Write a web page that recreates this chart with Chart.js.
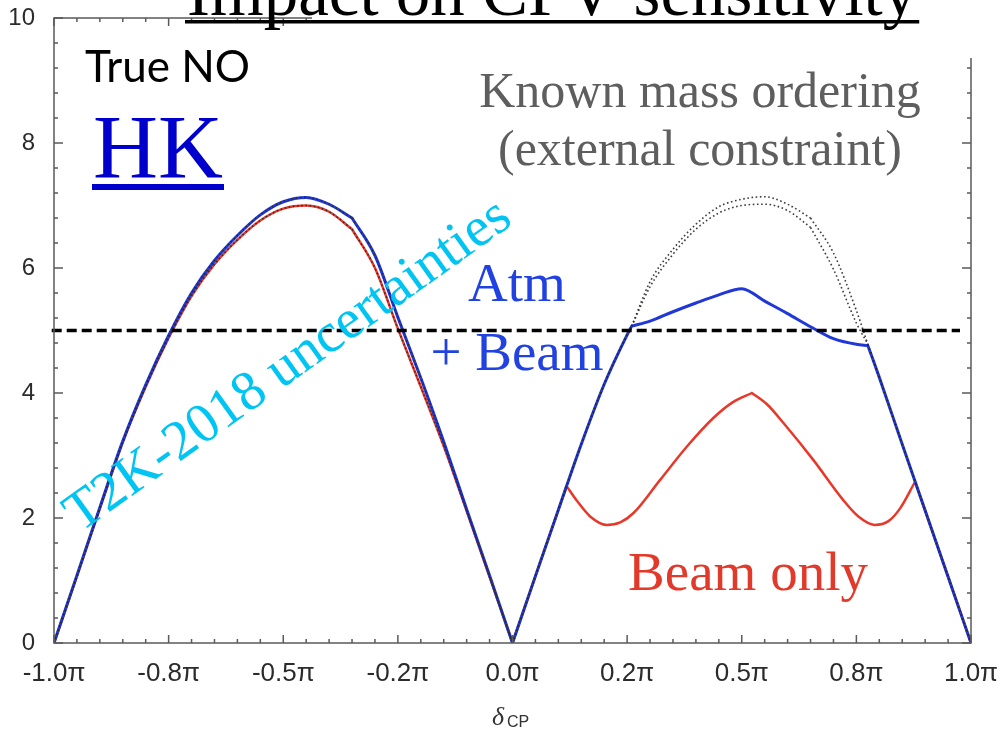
<!DOCTYPE html>
<html>
<head>
<meta charset="utf-8">
<script src="https://cdn.jsdelivr.net/npm/chart.js@4.4.1/dist/chart.umd.min.js"></script>
<style>
  html, body { margin: 0; padding: 0; background: #fff; }
  #wrap { width: 1000px; height: 731px; }
</style>
</head>
<body>
<div id="wrap"><canvas id="cpv" width="1000" height="731"></canvas></div>
<script>
// delta_CP axis, in units of pi
const xTicks = [-1, -0.75, -0.5, -0.25, 0, 0.25, 0.5, 0.75, 1];
const xTickLabels = ['-1.0π', '-0.8π', '-0.5π', '-0.2π', '0.0π', '0.2π', '0.5π', '0.8π', '1.0π'];
const yTicks = [0, 2, 4, 6, 8, 10];

// Atm + Beam
const atmBeamX = [-1, -0.95, -0.9, -0.85, -0.8, -0.75, -0.7, -0.65, -0.6, -0.55, -0.5, -0.45, -0.4, -0.35, -0.3, -0.25, -0.2, -0.15, -0.1, -0.05, 0,
  0.05, 0.1, 0.15, 0.2, 0.25, 0.26, 0.3, 0.35, 0.4, 0.45, 0.5, 0.55, 0.6, 0.65, 0.7, 0.75, 0.775, 0.785, 0.8, 0.85, 0.9, 0.95, 1];
const atmBeamY = [0, 1.08, 2.17, 3.23, 4.13, 4.92, 5.60, 6.12, 6.52, 6.85, 7.06, 7.13, 7.02, 6.80, 6.20, 5.21, 4.24, 3.22, 2.14, 1.08, 0,
  1.07, 2.13, 3.18, 4.14, 4.93, 5.07, 5.15, 5.30, 5.44, 5.57, 5.67, 5.47, 5.27, 5.06, 4.87, 4.78, 4.76, 4.56, 4.25, 3.18, 2.12, 1.06, 0];

// Beam only
const beamX = [-1, -0.95, -0.9, -0.85, -0.8, -0.75, -0.7, -0.65, -0.6, -0.55, -0.5, -0.45, -0.4, -0.35, -0.3, -0.25, -0.2, -0.15, -0.1, -0.05, 0,
  0.05, 0.1, 0.118, 0.14, 0.17, 0.205, 0.235, 0.264, 0.322, 0.38, 0.438, 0.48, 0.522, 0.555, 0.591, 0.656, 0.721, 0.755, 0.79, 0.82, 0.845, 0.878, 0.9, 0.95, 1];
const beamY = [0, 1.07, 2.15, 3.21, 4.10, 4.88, 5.55, 6.06, 6.45, 6.76, 6.95, 7.00, 6.90, 6.62, 6.00, 5.03, 4.10, 3.15, 2.11, 1.06, 0,
  1.07, 2.13, 2.51, 2.28, 2.02, 1.89, 1.93, 2.08, 2.61, 3.14, 3.60, 3.85, 4.00, 3.82, 3.52, 2.93, 2.29, 2.02, 1.89, 1.95, 2.15, 2.58, 2.12, 1.06, 0];

// known mass ordering (external constraint), right lobe
const knownX = [0.26, 0.3, 0.35, 0.4, 0.45, 0.5, 0.55, 0.6, 0.65, 0.7, 0.75, 0.775];
const knownAtmBeamY = [5.07, 5.78, 6.30, 6.70, 6.98, 7.10, 7.14, 7.02, 6.80, 6.24, 5.32, 4.78];
const knownBeamY = [5.07, 5.70, 6.22, 6.62, 6.88, 7.00, 7.02, 6.92, 6.65, 5.98, 5.12, 4.78];

const sigmaX = [-1.005, 0.976];
const sigmaY = [5, 5];

// corners where the curves change slope abruptly
const atmBeamKinks = [-0.35, 0, 0.26, 0.775];
const beamKinks = [-0.35, 0, 0.118, 0.522, 0.878];
const knownKinks = [-0.35, 0, 0.26, 0.65, 0.775];

function pts(xs, ys) { return xs.map((x, i) => ({ x: x, y: ys[i] })); }

// break the smoothed line at each corner so it stays sharp there
function withKinks(points, kinks) {
  const out = [];
  points.forEach(p => {
    out.push(p);
    if (kinks.some(k => Math.abs(k - p.x) < 1e-9)) {
      out.push({ x: p.x, y: null }, { x: p.x, y: p.y });
    }
  });
  return out;
}

// dotted curves follow the solid ones outside the region where they split off
const knownAtmBeam = pts(atmBeamX, atmBeamY).filter(p => p.x < 0.26)
  .concat(pts(knownX, knownAtmBeamY))
  .concat(pts(atmBeamX, atmBeamY).filter(p => p.x > 0.775));
const knownBeam = pts(beamX, beamY).filter(p => p.x <= 0)
  .concat(pts(atmBeamX, atmBeamY).filter(p => p.x > 0 && p.x < 0.26))
  .concat(pts(knownX, knownBeamY))
  .concat(pts(atmBeamX, atmBeamY).filter(p => p.x > 0.775));

const frame = {
  id: 'frame',
  afterDatasetsDraw(chart) {
    const { ctx, chartArea: a, scales: { x, y } } = chart;
    ctx.save();
    ctx.strokeStyle = '#5a5a5a';
    ctx.lineWidth = 1.5;
    ctx.strokeRect(a.left, a.top, a.right - a.left, a.bottom - a.top);
    ctx.beginPath();
    for (let i = 0; i <= 40; i++) {
      const px = x.getPixelForValue(-1 + i * 0.05);
      const len = i % 5 === 0 ? 8 : 4;
      ctx.moveTo(px, a.bottom); ctx.lineTo(px, a.bottom - len);
      ctx.moveTo(px, a.top); ctx.lineTo(px, a.top + len);
    }
    for (let i = 0; i <= 25; i++) {
      const py = y.getPixelForValue(i * 0.4);
      const len = i % 5 === 0 ? 9 : 4;
      ctx.moveTo(a.left, py); ctx.lineTo(a.left + len, py);
      ctx.moveTo(a.right, py); ctx.lineTo(a.right - len, py);
    }
    ctx.stroke();
    // heading block sits over the upper right of the frame
    ctx.fillStyle = '#fff';
    ctx.fillRect(312, 0, 688, 58);
    ctx.restore();
  }
};

const labels = {
  id: 'labels',
  afterDraw(chart) {
    const ctx = chart.ctx;
    ctx.save();
    ctx.textBaseline = 'alphabetic';

    ctx.fillStyle = '#000';
    ctx.font = '69px "Liberation Serif"';
    ctx.textAlign = 'left';
    const title = 'Impact on CPV sensitivity';
    ctx.fillText(title, 187, 15);
    ctx.fillRect(185, 20, ctx.measureText(title).width + 4, 3.5);

    ctx.font = '44px Lato';
    ctx.fillText('True NO', 85, 82);

    ctx.fillStyle = '#0000cc';
    ctx.font = '90px "Liberation Serif"';
    ctx.fillText('HK', 93, 178);
    ctx.fillRect(92, 184, ctx.measureText('HK').width + 2, 6);

    ctx.fillStyle = '#5e5e5e';
    ctx.font = '50px "Liberation Serif"';
    ctx.textAlign = 'center';
    ctx.fillText('Known mass ordering', 700, 107);
    ctx.fillText('(external constraint)', 700, 165);

    ctx.fillStyle = '#2142e0';
    ctx.font = '55px "Liberation Serif"';
    ctx.fillText('Atm', 517, 301);
    ctx.fillText('+ Beam', 517, 370);

    ctx.fillStyle = '#e23a2a';
    ctx.fillText('Beam only', 748, 590);

    ctx.save();
    ctx.translate(80, 533);
    ctx.rotate(-35.5 * Math.PI / 180);
    ctx.fillStyle = '#00c4f2';
    ctx.font = '56px "Liberation Serif"';
    ctx.textAlign = 'left';
    ctx.fillText('T2K-2018 uncertainties', 0, 0);
    ctx.restore();

    // axis title: delta with CP subscript
    ctx.fillStyle = '#333';
    ctx.textAlign = 'left';
    ctx.font = 'italic 26px "Liberation Serif"';
    ctx.fillText('δ', 492, 725);
    ctx.font = '16px "Liberation Sans"';
    ctx.fillText('CP', 507, 727);
    ctx.restore();
  }
};

const solid = { borderCapStyle: 'round', borderJoinStyle: 'round' };

new Chart(document.getElementById('cpv').getContext('2d'), {
  type: 'line',
  data: {
    datasets: [
      { label: '5 sigma', data: pts(sigmaX, sigmaY), borderColor: '#000', borderWidth: 3.5, borderDash: [10, 5], clip: false, order: 0 },
      { label: 'Known MO, Atm + Beam', data: withKinks(knownAtmBeam, knownKinks), borderColor: 'rgba(40,40,40,0.9)', borderWidth: 1.6, borderDash: [1.6, 2.6], order: 1 },
      { label: 'Known MO, Beam only', data: withKinks(knownBeam, knownKinks), borderColor: 'rgba(40,40,40,0.9)', borderWidth: 1.6, borderDash: [1.6, 2.6], order: 2 },
      Object.assign({ label: 'Atm + Beam', data: withKinks(pts(atmBeamX, atmBeamY), atmBeamKinks), borderColor: '#2038d8', borderWidth: 3, order: 3 }, solid),
      Object.assign({ label: 'Beam only', data: withKinks(pts(beamX, beamY), beamKinks), borderColor: '#e8382a', borderWidth: 2.5, order: 4 }, solid)
    ]
  },
  options: {
    responsive: false,
    animation: false,
    layout: { padding: { top: 18, right: 29, left: 0, bottom: 0 } },
    elements: { point: { radius: 0 }, line: { cubicInterpolationMode: 'monotone', fill: false } },
    plugins: { legend: { display: false }, tooltip: { enabled: false } },
    scales: {
      x: {
        type: 'linear', min: -1, max: 1,
        grid: { display: false, drawTicks: false },
        border: { display: false },
        afterBuildTicks: s => { s.ticks = xTicks.map(v => ({ value: v })); },
        afterFit: s => { s.height = 88; s.paddingLeft = 0; s.paddingRight = 0; },
        ticks: {
          autoSkip: false, maxRotation: 0, padding: 15, color: '#2b2b2b',
          font: { family: '"Liberation Sans"', size: 26 },
          callback: v => xTickLabels[xTicks.findIndex(t => Math.abs(t - v) < 1e-6)]
        }
      },
      y: {
        min: 0, max: 10,
        grid: { display: false, drawTicks: false },
        border: { display: false },
        afterBuildTicks: s => { s.ticks = yTicks.map(v => ({ value: v })); },
        afterFit: s => { s.width = 54; s.paddingTop = 0; s.paddingBottom = 0; },
        ticks: { padding: 19, color: '#2b2b2b', font: { family: '"Liberation Sans"', size: 24 } }
      }
    }
  },
  plugins: [frame, labels]
});
</script>
</body>
</html>
